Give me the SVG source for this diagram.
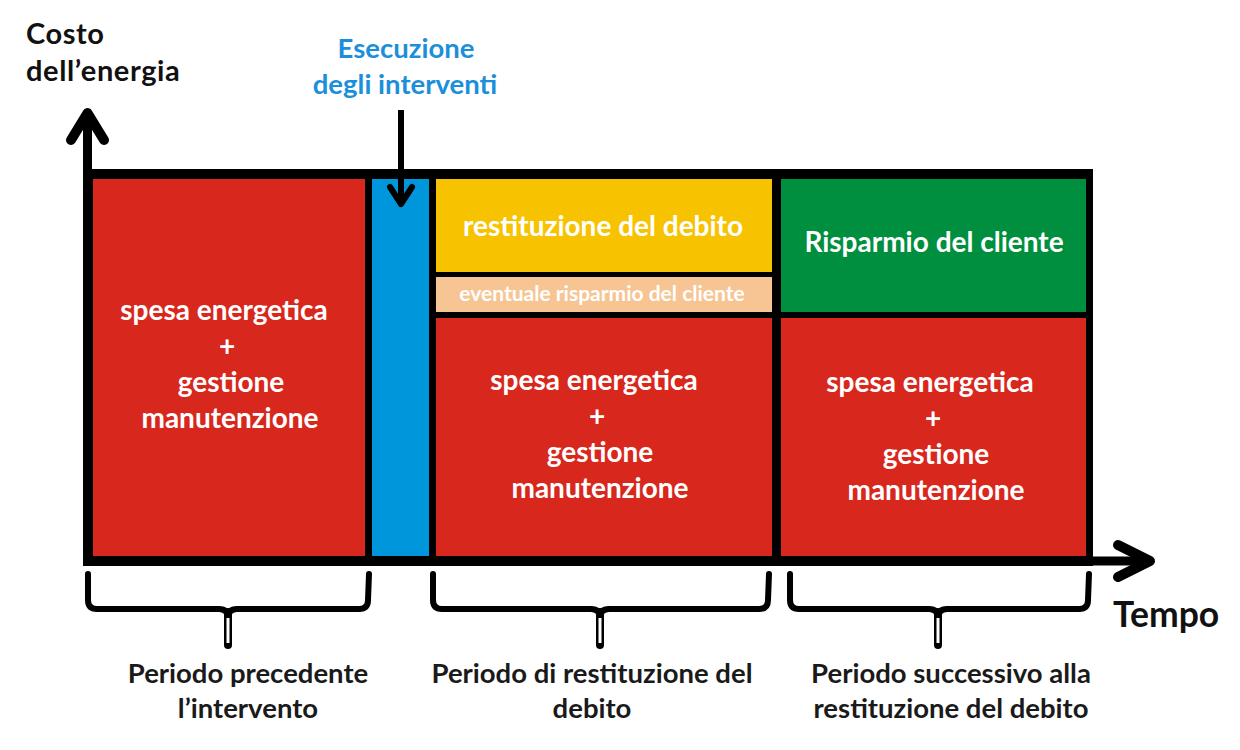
<svg xmlns="http://www.w3.org/2000/svg" width="1240" height="750" viewBox="0 0 1240 750">
<style>
.t{font-family:Lato,"Open Sans","Liberation Sans",sans-serif;font-weight:bold}
.w{fill:#ffffff;text-anchor:middle;font-size:28px}
.lab{fill:#1a1a1a;text-anchor:middle;font-size:27.5px}
.ax{fill:#111111;font-size:29px;letter-spacing:0.6px}
.blk{stroke:#000;fill:none;stroke-linecap:round;stroke-linejoin:round}
</style>
<rect width="1240" height="750" fill="#ffffff"/>
<g id="frame">
<rect x="83" y="169" width="1010" height="397" fill="#000"/>
</g>
<g id="box-pre">
<rect x="93" y="179" width="272" height="377" fill="#d8271d"/>
<text class="t w"><tspan x="224" y="320">spesa energetica</tspan><tspan x="227" y="356">+</tspan><tspan x="231" y="392">gestione</tspan><tspan x="230" y="428">manutenzione</tspan></text>
</g>
<g id="box-exec">
<rect x="372" y="179" width="57" height="377" fill="#0096dc"/>
</g>
<g id="box-debt">
<rect x="436" y="179" width="336" height="93" fill="#f7c300"/>
<text class="t w" x="603" y="236">restituzione del debito</text>
</g>
<g id="box-event">
<rect x="436" y="277" width="336" height="35" fill="#f6c593"/>
<text class="t" x="602" y="301" fill="#ffffff" text-anchor="middle" font-size="21">eventuale risparmio del cliente</text>
</g>
<g id="box-red2">
<rect x="436" y="318" width="336" height="238" fill="#d8271d"/>
<text class="t w"><tspan x="594" y="390">spesa energetica</tspan><tspan x="597" y="426">+</tspan><tspan x="600" y="462">gestione</tspan><tspan x="600" y="498">manutenzione</tspan></text>
</g>
<g id="box-green">
<rect x="781" y="179" width="305" height="133" fill="#008f3f"/>
<text class="t w" x="934" y="252">Risparmio del cliente</text>
</g>
<g id="box-red3">
<rect x="781" y="318" width="305" height="238" fill="#d8271d"/>
<text class="t w"><tspan x="930" y="392">spesa energetica</tspan><tspan x="933" y="428">+</tspan><tspan x="936" y="464">gestione</tspan><tspan x="936" y="500">manutenzione</tspan></text>
</g>
<g id="connectors">
<line x1="87.5" y1="169" x2="87.5" y2="114" stroke="#000" stroke-width="9"/>
<polyline class="blk" points="71,140 87.5,113 104,140" stroke-width="10"/>
<line x1="1090" y1="561" x2="1148" y2="561" stroke="#000" stroke-width="9"/>
<polyline class="blk" points="1118,545 1150,561 1118,577" stroke-width="10"/>
<line x1="401" y1="110" x2="401" y2="203" stroke="#000" stroke-width="6"/>
<polyline class="blk" points="390,187 401,204 412,187" stroke-width="6"/>
<path class="blk" stroke-width="6" d="M88,574 L88,600 Q88,609 97,609 L219,609 Q228,609 228,618 Q228,609 237,609 L359,609 Q368,609 368,600 L369,574"/>
<path class="blk" stroke-width="6" d="M433,574 L433,600 Q433,609 442,609 L591,609 Q600,609 600,618 Q600,609 609,609 L759,609 Q768,609 768,600 L769,574"/>
<path class="blk" stroke-width="6" d="M790,574 L790,600 Q790,609 799,609 L929,609 Q938,609 938,618 Q938,609 947,609 L1079,609 Q1088,609 1088,600 L1089,574"/>
<line x1="228" y1="612" x2="228" y2="645" stroke="#000" stroke-width="8" stroke-linecap="round"/>
<line x1="228" y1="618" x2="228" y2="643" stroke="#fff" stroke-width="3"/>
<line x1="600" y1="612" x2="600" y2="645" stroke="#000" stroke-width="8" stroke-linecap="round"/>
<line x1="600" y1="618" x2="600" y2="643" stroke="#fff" stroke-width="3"/>
<line x1="938" y1="612" x2="938" y2="645" stroke="#000" stroke-width="8" stroke-linecap="round"/>
<line x1="938" y1="618" x2="938" y2="643" stroke="#fff" stroke-width="3"/>
</g>
<g id="axis-labels">
<text class="t ax"><tspan x="26" y="44">Costo</tspan><tspan x="26" y="81">dell’energia</tspan></text>
<text class="t" fill="#1b8fd9" text-anchor="middle" font-size="27.5"><tspan x="406" y="58">Esecuzione</tspan><tspan x="405" y="94">degli interventi</tspan></text>
<text class="t" x="1113" y="627" fill="#111111" font-size="35.5">Tempo</text>
</g>
<g id="period-labels">
<text class="t lab"><tspan x="248" y="683">Periodo precedente</tspan><tspan x="248" y="718">l’intervento</tspan></text>
<text class="t lab"><tspan x="592" y="683">Periodo di restituzione del</tspan><tspan x="592" y="718">debito</tspan></text>
<text class="t lab"><tspan x="951" y="683">Periodo successivo alla</tspan><tspan x="951" y="718">restituzione del debito</tspan></text>
</g>
</svg>
